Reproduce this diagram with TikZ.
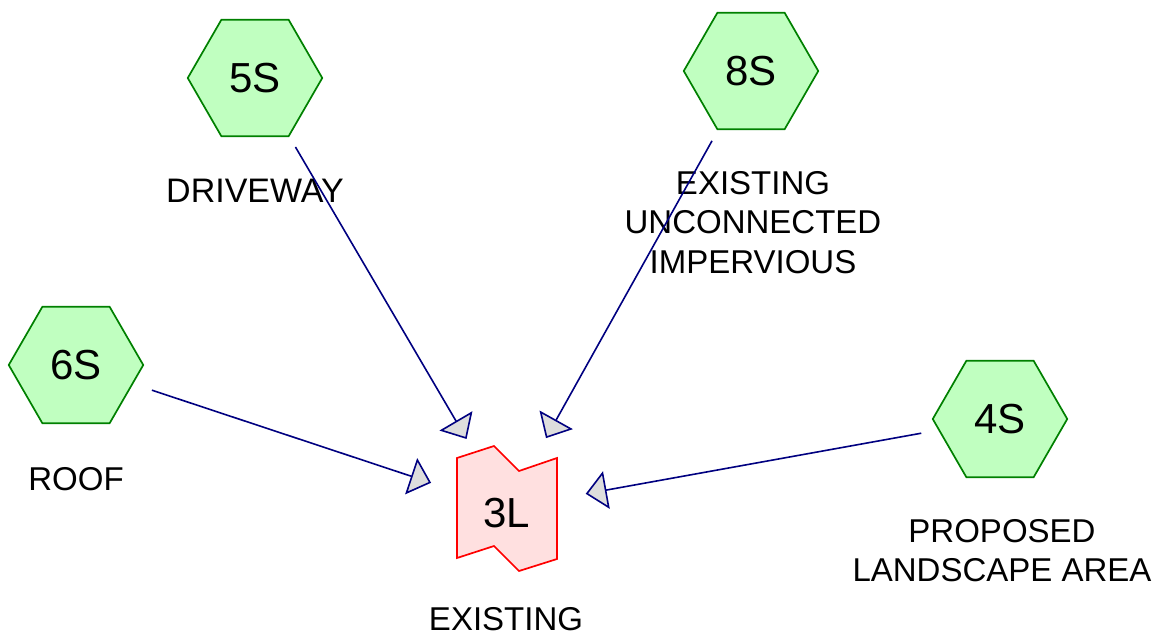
\documentclass[tikz,border=0pt]{standalone}
\usepackage{fontspec}
\setmainfont{Liberation Sans}
\usetikzlibrary{shapes.geometric,arrows.meta}

\definecolor{hexfill}{HTML}{C0FFC0}
\definecolor{hexdraw}{HTML}{008000}
\definecolor{linkfill}{HTML}{FFE0E0}
\definecolor{linkdraw}{HTML}{FF0000}
\definecolor{flowcol}{HTML}{000080}
\definecolor{tipfill}{HTML}{DDDDDD}

\begin{document}
\begin{tikzpicture}[x=1pt,y=-1pt,
  hexnode/.style={regular polygon, regular polygon sides=6, minimum size=134.5pt,
    inner sep=0pt, draw=hexdraw, fill=hexfill, line width=1.7pt,
    font=\fontsize{42}{50}\selectfont},
  linkshape/.style={draw=linkdraw, fill=linkfill, line width=1.7pt, line join=miter},
  linktext/.style={inner sep=0pt, text height=40pt, text depth=2pt,
    font=\fontsize{42}{50}\selectfont},
  lbl/.style={inner sep=0pt, align=center, font=\fontsize{33}{39.5}\selectfont},
  flow/.style={draw=flowcol, line width=1.6pt, shorten <=80pt, shorten >=80pt,
    -{Triangle[length=21pt,width=38pt,fill=tipfill]}},
]
\useasboundingbox (0,0) rectangle (1170,639);

% subcatchments
\node[hexnode] (s5) at (255,78) {5S};
\node[hexnode] (s8) at (751,71) {8S};
\node[hexnode] (s6) at (76,365) {6S};
\node[hexnode] (s4) at (1000,419) {4S};

% link
\coordinate (c3) at (507,508);
\begin{scope}[shift={(c3)}]
  \draw[linkshape] (-50,-50) -- (-13,-62) -- (12,-37) -- (50,-50)
    -- (50,51) -- (12,63) -- (-13,38) -- (-50,50) -- cycle;
\end{scope}
\node[linktext] (l3) at (c3) {3L};

% captions
\node[lbl, anchor=base, font=\fontsize{34}{39.5}\selectfont] (t5) at (255,203) {DRIVEWAY};
\node[lbl, anchor=north] (t8) at (753,171) {EXISTING\\UNCONNECTED\\IMPERVIOUS};
\node[lbl, anchor=base] (t6) at (76,490) {ROOF};
\node[lbl, anchor=north] (t4) at (1002,519) {PROPOSED\\LANDSCAPE AREA};
\node[lbl, anchor=base] (t3) at (506,630) {EXISTING};

% flows into the link
\draw[flow] (s5.center) -- (l3.center);
\draw[flow] (s8.center) -- (l3.center);
\draw[flow] (s6.center) -- (l3.center);
\draw[flow] (s4.center) -- (l3.center);
\end{tikzpicture}
\end{document}
